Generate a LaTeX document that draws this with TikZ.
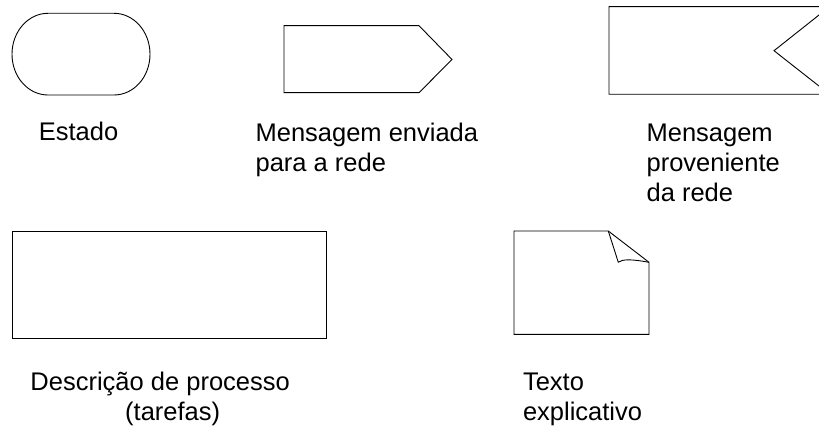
\documentclass[tikz,border=0pt]{standalone}
\usepackage{fontspec}
\setmainfont{Liberation Sans}
\begin{document}
\begin{tikzpicture}[x=1pt,y=-1pt,
  shapeline/.style={draw=black,line width=0.9pt,line join=miter},
  lbl/.style={anchor=base west,inner sep=0pt,font=\fontsize{25.5}{30}\selectfont,text=black}]
\clip (0,0) rectangle (819,430);
\fill[white] (0,0) rectangle (819,430);
% Estado (stadium)
\draw[shapeline] (48,13.3) -- (114,13.3)
  .. controls (133.9,13.3) and (150,31.6) .. (150,54.2)
  .. controls (150,76.8) and (133.9,95) .. (114,95)
  -- (48,95)
  .. controls (28.1,95) and (12,76.8) .. (12,54.2)
  .. controls (12,31.6) and (28.1,13.3) .. (48,13.3) -- cycle;
% Mensagem enviada
\draw[shapeline] (284,25.7) -- (419,25.7) -- (452,59.5) -- (419,92.7) -- (284,92.7) -- cycle;
% Mensagem proveniente
\draw[shapeline] (609,6.7) -- (829.5,6.7) -- (774,50.7) -- (829.5,94.3) -- (609,94.3) -- cycle;
% Descricao de processo
\draw[shapeline] (12.3,231) rectangle (326.7,338.3);
% Texto explicativo (note)
\draw[shapeline] (514,231) -- (608.3,231) -- (649,262.3) -- (649,334.3) -- (514,334.3) -- cycle;
\draw[shapeline,line join=round] (608.3,231) -- (618.3,262.3)
  .. controls (622,259.3) and (630,258.8) .. (649,262.3);
% labels
\node[lbl] (tEstado) at (38.7,140.7) {Estado};
\node[lbl] (tEnvA) at (255.4,141.7) {Mensagem enviada};
\node[lbl] (tEnvB) at (255.4,171.7) {para a rede};
\node[lbl] (tProvA) at (646.4,141.7) {Mensagem};
\node[lbl] (tProvB) at (646.4,171.7) {proveniente};
\node[lbl] (tProvC) at (646.4,201.7) {da rede};
\node[lbl] (tDescA) at (30.3,390) {Descrição de processo};
\node[lbl] (tDescB) at (125,420) {(tarefas)};
\node[lbl] (tTextoA) at (522.8,390) {Texto};
\node[lbl] (tTextoB) at (522.8,420) {explicativo};
\end{tikzpicture}
\end{document}
